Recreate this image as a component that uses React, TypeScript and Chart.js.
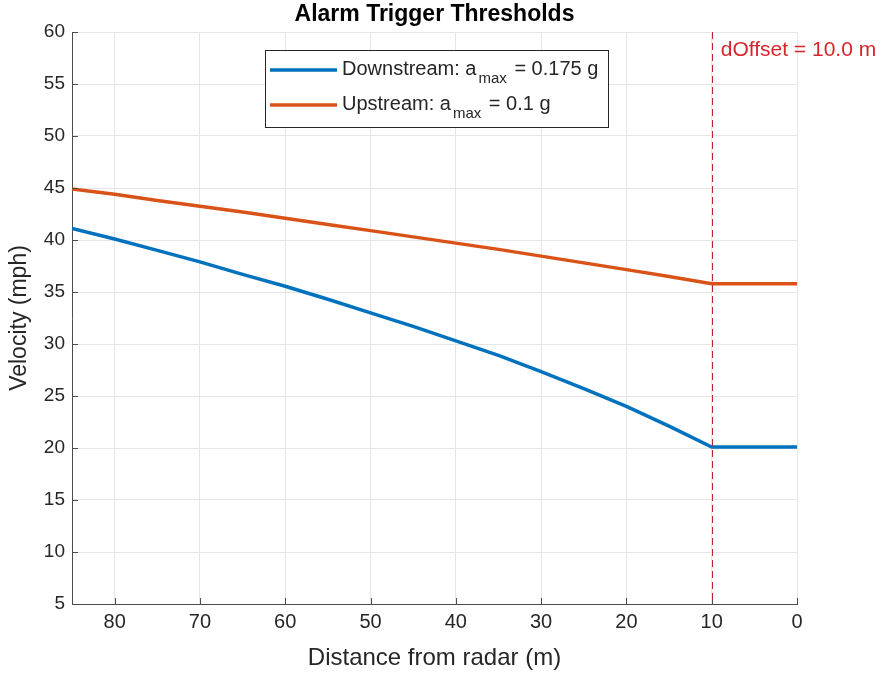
import React, { useEffect, useRef } from "react";
import { Chart, registerables } from "chart.js";

Chart.register(...registerables);

const distances = [85, 80, 75, 70, 65, 60, 55, 50, 45, 40, 35, 30, 25, 20, 15, 10, 5, 0];
const downstream = [41.1, 40.1, 39.0, 37.9, 36.7, 35.55, 34.3, 33.0, 31.7, 30.3, 28.9, 27.35, 25.7, 24.0, 22.1, 20.1, 20.1, 20.1];
const upstream = [44.9, 44.4, 43.8, 43.25, 42.7, 42.1, 41.5, 40.9, 40.3, 39.7, 39.1, 38.45, 37.8, 37.15, 36.5, 35.8, 35.8, 35.8];
const xTicks = [80, 70, 60, 50, 40, 30, 20, 10, 0];
const yTicks = [5, 10, 15, 20, 25, 30, 35, 40, 45, 50, 55, 60];
const seriesNames = ["Downstream: a", "Upstream: a"];
const seriesSuffix = [" = 0.175 g", " = 0.1 g"];
const dOffset = 10;
const offsetLabel = "dOffset = 10.0 m";
const titleText = "Alarm Trigger Thresholds";

const BLUE = "#0072BD";
const ORANGE = "#D95319";
const FONT = "'Liberation Sans', Arial, sans-serif";

const overlayPlugin = {
  id: "overlay",
  afterDatasetsDraw(chart: any) {
    const { ctx, chartArea, scales } = chart;
    const xs = scales.x;
    const ys = scales.y;
    ctx.save();

    // inward tick marks
    ctx.strokeStyle = "#4d4d4d";
    ctx.lineWidth = 1;
    ctx.beginPath();
    for (const v of yTicks) {
      const y = Math.round(ys.getPixelForValue(v)) + 0.5;
      ctx.moveTo(chartArea.left, y);
      ctx.lineTo(chartArea.left + 6, y);
    }
    for (const v of xTicks) {
      const x = Math.round(xs.getPixelForValue(v)) + 0.5;
      ctx.moveTo(x, chartArea.bottom);
      ctx.lineTo(x, chartArea.bottom - 6);
    }
    ctx.stroke();

    // title
    ctx.fillStyle = "#000";
    ctx.font = `bold 23px ${FONT}`;
    ctx.textAlign = "center";
    ctx.textBaseline = "middle";
    ctx.fillText(titleText, (chartArea.left + chartArea.right) / 2, 15);

    // dOffset line
    const xo = xs.getPixelForValue(dOffset);
    ctx.strokeStyle = "#B8282D";
    ctx.lineWidth = 1;
    ctx.setLineDash([7, 4]);
    ctx.beginPath();
    ctx.moveTo(Math.round(xo) + 0.5, chartArea.top);
    ctx.lineTo(Math.round(xo) + 0.5, chartArea.bottom);
    ctx.stroke();
    ctx.setLineDash([]);
    ctx.fillStyle = "#D7262B";
    ctx.font = `21px ${FONT}`;
    ctx.textAlign = "left";
    ctx.fillText(offsetLabel, xo + 9, 50);

    // legend
    const lx = 265, ly = 50, lw = 343, lh = 77;
    ctx.fillStyle = "#fff";
    ctx.fillRect(lx, ly, lw, lh);
    ctx.strokeStyle = "#262626";
    ctx.lineWidth = 1;
    ctx.strokeRect(lx + 0.5, ly + 0.5, lw, lh);
    const colors = [BLUE, ORANGE];
    const rows = [70, 105];
    for (let i = 0; i < 2; i++) {
      const y = rows[i];
      ctx.strokeStyle = colors[i];
      ctx.lineWidth = 3.5;
      ctx.beginPath();
      ctx.moveTo(270, y);
      ctx.lineTo(337, y);
      ctx.stroke();
      ctx.fillStyle = "#262626";
      ctx.font = `20px ${FONT}`;
      ctx.textAlign = "left";
      ctx.textBaseline = "middle";
      let x = 342;
      ctx.fillText(seriesNames[i], x, y - 1);
      x += ctx.measureText(seriesNames[i]).width + 2;
      ctx.font = `15px ${FONT}`;
      ctx.fillText("max", x, y + 9);
      x += ctx.measureText("max").width + 2;
      ctx.font = `20px ${FONT}`;
      ctx.fillText(seriesSuffix[i], x, y - 1);
    }
    ctx.restore();
  },
};

export default function App() {
  const ref = useRef<HTMLCanvasElement | null>(null);
  useEffect(() => {
    if (!ref.current) return;
    const chart = new Chart(ref.current, {
      type: "line",
      data: {
        datasets: [
          {
            label: "Downstream",
            data: distances.map((d, i) => ({ x: d, y: downstream[i] })),
            borderColor: BLUE,
            borderWidth: 3.5,
            pointRadius: 0,
            tension: 0,
          },
          {
            label: "Upstream",
            data: distances.map((d, i) => ({ x: d, y: upstream[i] })),
            borderColor: ORANGE,
            borderWidth: 3.5,
            pointRadius: 0,
            tension: 0,
          },
        ],
      },
      options: {
        animation: false,
        responsive: false,
        layout: { padding: { top: 32, right: 91, left: 0, bottom: 0 } },
        plugins: { legend: { display: false }, title: { display: false }, tooltip: { enabled: false } },
        scales: {
          x: {
            type: "linear",
            reverse: true,
            min: 0,
            max: 85,
            afterBuildTicks(scale: any) {
              scale.ticks = xTicks.map((v) => ({ value: v }));
            },
            afterFit(scale: any) {
              scale.height = 73;
            },
            grid: { color: "#e6e6e6", drawTicks: false },
            border: { color: "#4d4d4d", width: 1 },
            ticks: { color: "#262626", font: { size: 20, family: FONT }, padding: 6, maxRotation: 0 },
            title: {
              display: true,
              text: "Distance from radar (m)",
              color: "#262626",
              font: { size: 24, family: FONT },
              padding: { top: 5 },
            },
          },
          y: {
            type: "linear",
            min: 5,
            max: 60,
            afterBuildTicks(scale: any) {
              scale.ticks = yTicks.map((v) => ({ value: v }));
            },
            afterFit(scale: any) {
              scale.width = 72;
            },
            grid: { color: "#e6e6e6", drawTicks: false },
            border: { color: "#4d4d4d", width: 1 },
            ticks: { color: "#262626", font: { size: 19, family: FONT }, padding: 7 },
            title: {
              display: true,
              text: "Velocity (mph)",
              color: "#262626",
              font: { size: 23, family: FONT },
              padding: { top: 6, bottom: 6 },
            },
          },
        },
      },
      plugins: [overlayPlugin],
    });
    return () => chart.destroy();
  }, []);
  return (
    <div style={{ position: "fixed", left: 0, top: 0, width: 888, height: 677, background: "#fff" }}>
      <canvas ref={ref} width={888} height={677} style={{ width: 888, height: 677 }} />
    </div>
  );
}
